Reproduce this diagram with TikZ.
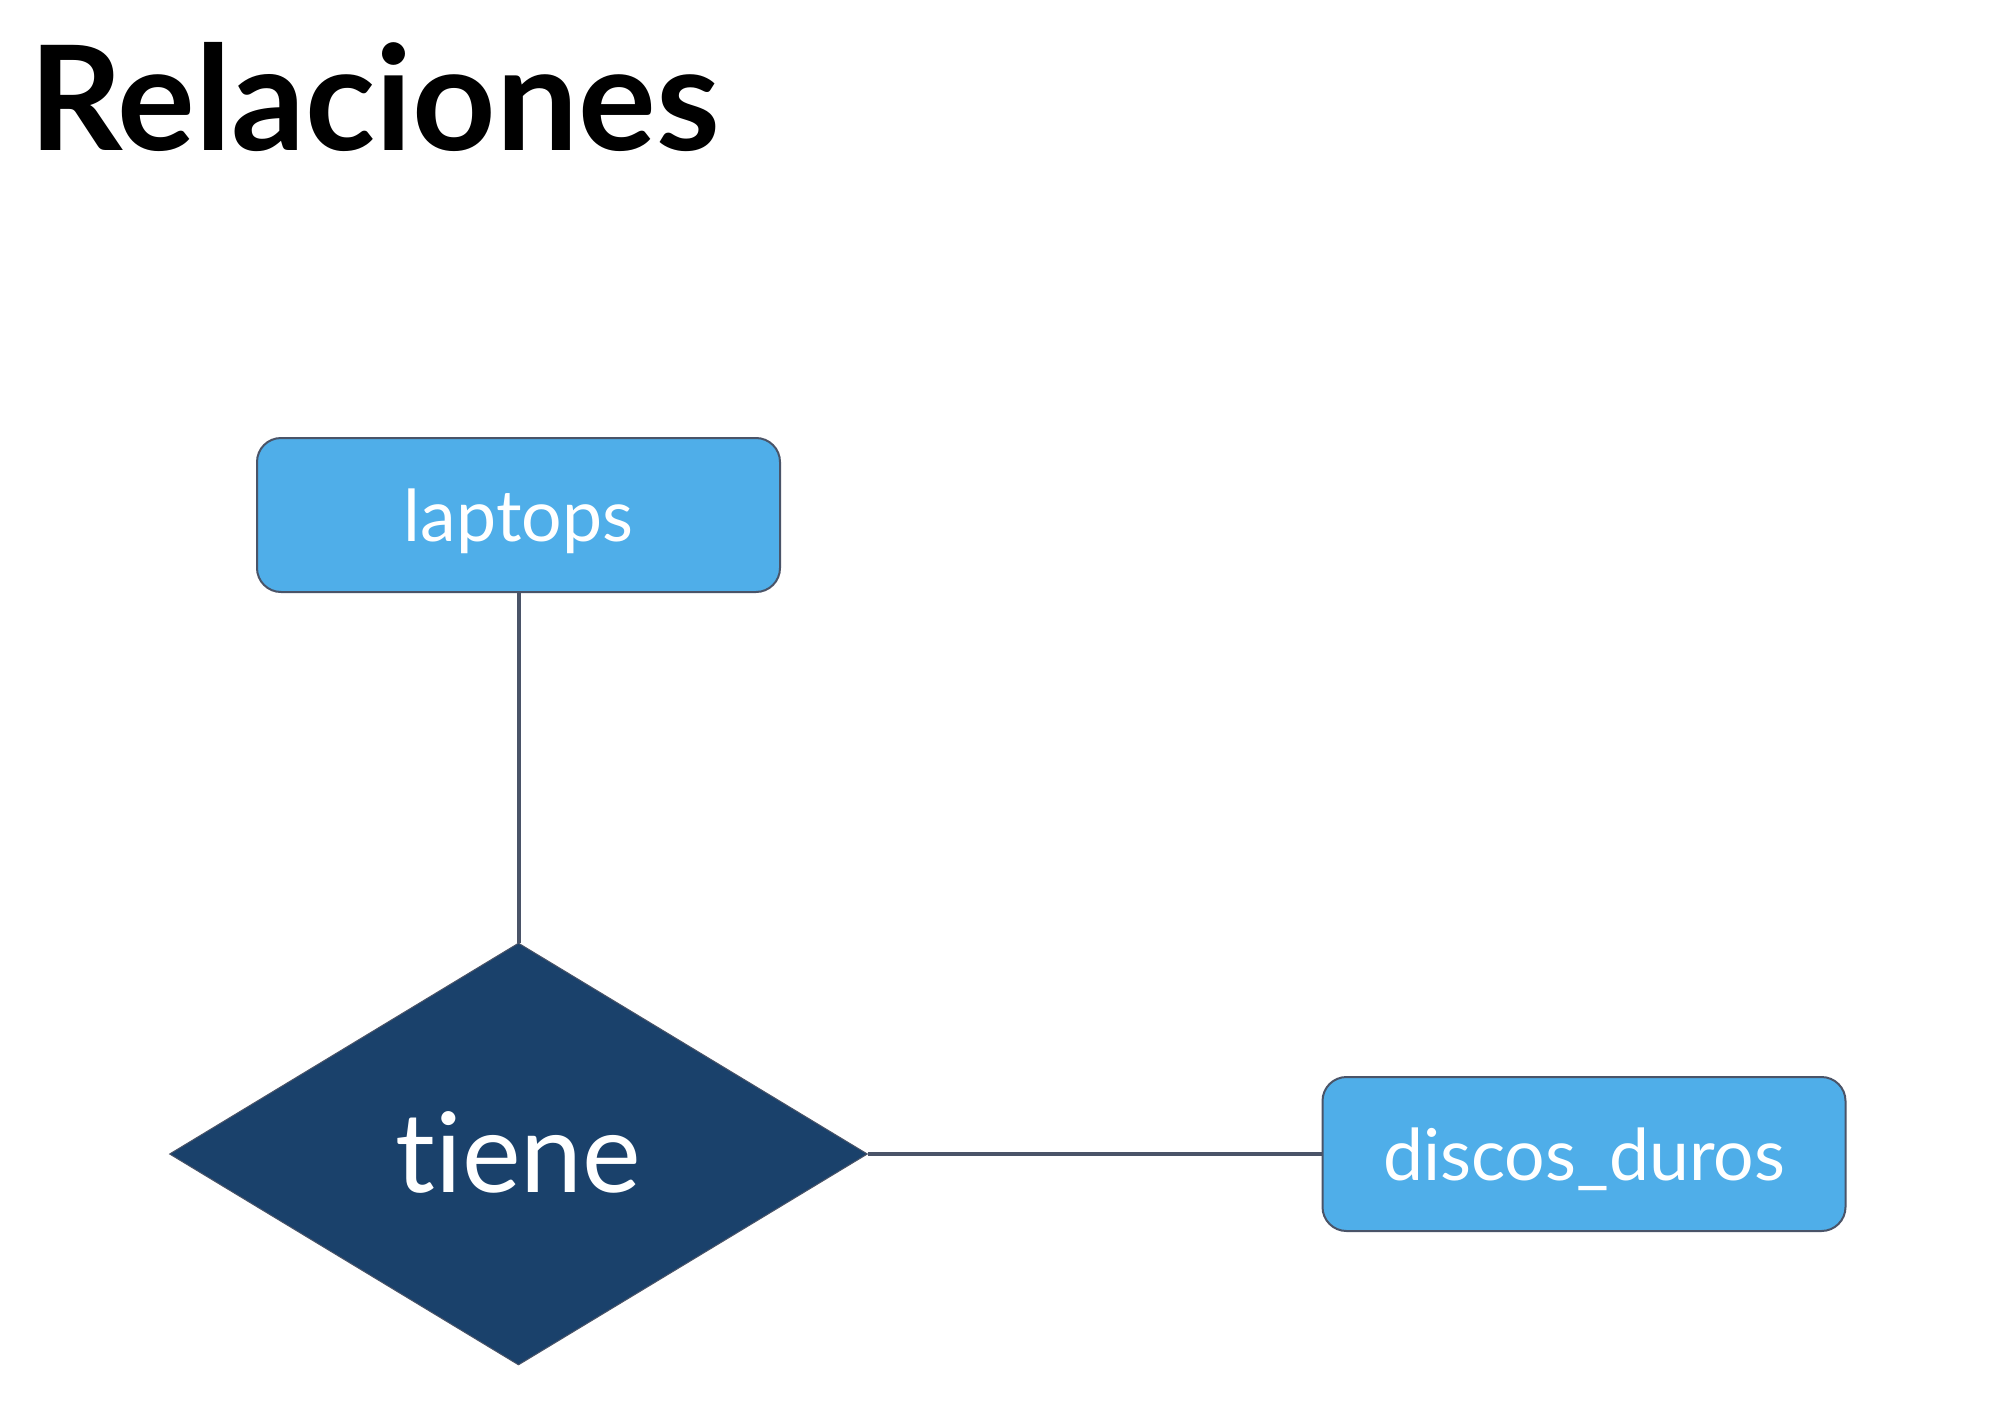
\documentclass[tikz,border=0pt]{standalone}
\usepackage{fontspec}
\setmainfont{Lato}[Ligatures=NoCommon]
\usetikzlibrary{shapes.geometric,backgrounds}
\definecolor{boxfill}{RGB}{79,174,233}
\definecolor{relfill}{RGB}{26,65,107}
\definecolor{edgecol}{RGB}{74,84,104}
\tikzset{
  entity/.style={draw=edgecol, line width=2pt, fill=boxfill, rounded corners=24pt,
    minimum width=523pt, minimum height=154pt, inner sep=0pt, text=white,
    font=\fontsize{71.5}{80}\selectfont, text height=52pt, text depth=0pt},
  relation/.style={draw=edgecol, line width=1pt, fill=relfill, shape=diamond,
    minimum width=698pt, minimum height=422pt, inner sep=0pt, text=white,
    font=\fontsize{111}{120}\selectfont, text height=76pt, text depth=0pt},
  link/.style={draw=edgecol, line width=4pt},
  titletext/.style={font=\fontsize{145.5}{150}\selectfont\bfseries, inner sep=0pt, anchor=base west}
}
\begin{document}
\begin{tikzpicture}[x=1pt,y=-1pt]
\useasboundingbox (0,0) rectangle (1992,1402);
\node[titletext] (title) at (29,150) {Relaciones};
\node[entity] (laptops) at (518.5,515) {laptops};
\node[relation] (tiene) at (518.5,1154) {tiene};
\node[entity] (discos) at (1584,1154) {discos\_duros};
\begin{scope}[on background layer]
  \fill[white] (0,0) rectangle (1992,1402);
  \draw[link] (laptops.south) -- (tiene.north);
  \draw[link] (tiene.east) -- (discos.west);
\end{scope}
\end{tikzpicture}
\end{document}
